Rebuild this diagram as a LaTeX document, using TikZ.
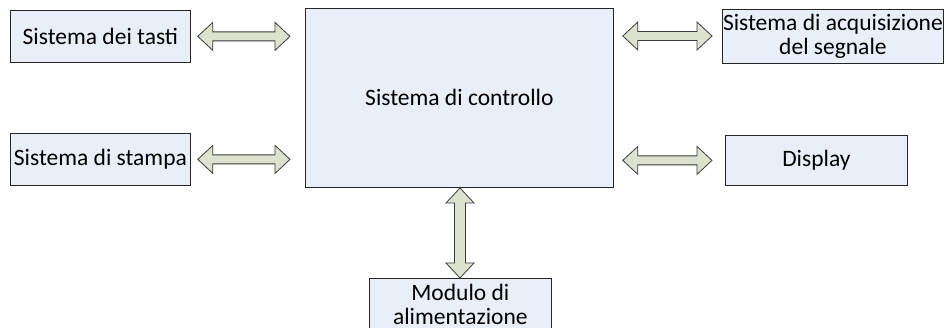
\documentclass[tikz,border=0pt]{standalone}
\usepackage{fontspec}
\setmainfont{Carlito}
\usetikzlibrary{calc}
\definecolor{boxfill}{RGB}{233,239,248}
\definecolor{arrfill}{RGB}{221,226,206}
\definecolor{arrline}{RGB}{60,60,60}
\tikzset{
  blk/.style={draw=black!85, line width=0.8pt, fill=boxfill, inner sep=0pt, anchor=north west,
    font=\fontsize{23.5}{24}\selectfont, align=center},
  blockarrow/.style={draw=arrline, line width=0.8pt, fill=arrfill, line join=miter}
}
% horizontal double block arrow between two named coordinates
\newcommand{\harrow}[2]{%
  \draw[blockarrow] let \p1=(#1), \p2=(#2) in
    (\x1,\y1) -- (\x1+15,\y1+14) -- (\x1+15,\y1+4.5) -- (\x2-15,\y1+4.5) -- (\x2-15,\y1+14)
    -- (\x2,\y1) -- (\x2-15,\y1-14) -- (\x2-15,\y1-4.5) -- (\x1+15,\y1-4.5) -- (\x1+15,\y1-14) -- cycle;}
\newcommand{\varrow}[2]{%
  \draw[blockarrow] let \p1=(#1), \p2=(#2) in
    (\x1,\y1) -- (\x1+14,\y1-15) -- (\x1+5.5,\y1-15) -- (\x1+5.5,\y2+15) -- (\x1+14,\y2+15)
    -- (\x1,\y2) -- (\x1-14,\y2+15) -- (\x1-5.5,\y2+15) -- (\x1-5.5,\y1-15) -- (\x1-14,\y1-15) -- cycle;}
\begin{document}
\begin{tikzpicture}[x=1pt,y=-1pt]
\useasboundingbox[fill=white] (0,0) rectangle (946,328);
\node[blk, minimum width=180pt, minimum height=52pt] (tasti) at (10,10) {Sistema dei tasti};
\node[blk, minimum width=180pt, minimum height=52pt] (stampa) at (10,133) {Sistema di stampa};
\node[blk, minimum width=308pt, minimum height=179pt] (ctrl) at (305,8) {Sistema di controllo};
\node[blk, minimum width=221pt, minimum height=54pt] (acq) at (722,9) {Sistema di acquisizione\\del segnale};
\node[blk, minimum width=182pt, minimum height=52pt, anchor=north west] (mod) at (369,278) {Modulo di\\alimentazione};

\node[blk, minimum width=182pt, minimum height=50pt] (disp) at (725,135) {Display};

\coordinate (a1s) at ([xshift=7pt]tasti.east);
\coordinate (a1e) at ([xshift=-15pt]ctrl.west |- tasti.east);
\harrow{a1s}{a1e}
\coordinate (a2s) at ([xshift=7pt]stampa.east);
\coordinate (a2e) at ([xshift=-15pt]ctrl.west |- stampa.east);
\harrow{a2s}{a2e}
\coordinate (a3s) at ([xshift=9pt]ctrl.east |- 0,36);
\coordinate (a3e) at ([xshift=-10pt]acq.west |- 0,36);
\harrow{a3s}{a3e}
\coordinate (a4s) at ([xshift=9pt]ctrl.east |- disp.west);
\coordinate (a4e) at ([xshift=-13pt]disp.west);
\harrow{a4s}{a4e}
\coordinate (a5s) at (460,188);
\coordinate (a5e) at (mod.north -| 460,0);
\varrow{a5s}{a5e}
\end{tikzpicture}
\end{document}
